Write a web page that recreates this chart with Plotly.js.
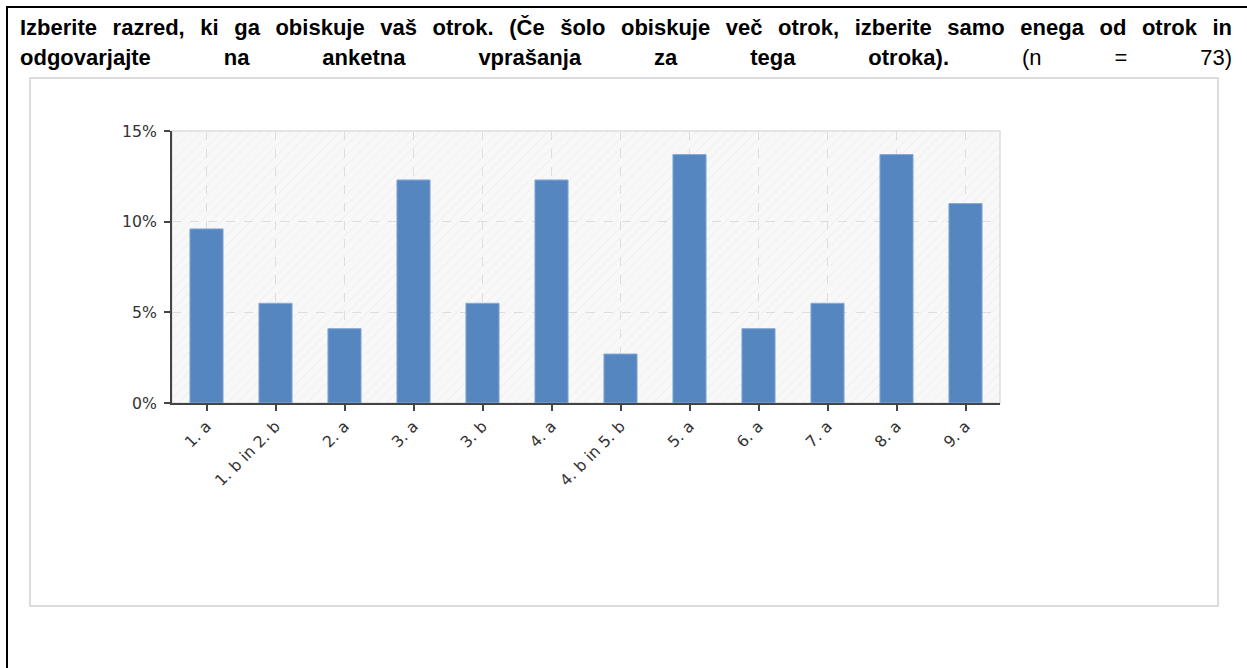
<!DOCTYPE html>
<html>
<head>
<meta charset="utf-8">
<script src="https://cdn.plot.ly/plotly-3.0.1.min.js"></script>
<style>
  html, body { margin: 0; padding: 0; background: #fff; width: 1247px; height: 668px; overflow: hidden; }
  #frameTop { position: absolute; left: 6px; top: 6px; width: 1241px; height: 2px; background: #000; }
  #frameLeft { position: absolute; left: 6px; top: 6px; width: 2px; height: 662px; background: #000; }
  #title { position: absolute; left: 20px; top: 13px; width: 1212px;
           font-family: "Liberation Sans", Arial, sans-serif; font-size: 22px; line-height: 30px; color: #000; }
  #title div { text-align: justify; text-align-last: justify; }
  #title b { font-weight: bold; }
  #title span { font-weight: normal; }
  #box { position: absolute; left: 29px; top: 77px; width: 1186px; height: 526px; border: 2px solid #dcdcdc; }
  #chart { position: absolute; left: 0; top: 0; width: 1247px; height: 668px; }
</style>
</head>
<body>
<div id="frameTop"></div>
<div id="frameLeft"></div>
<div id="box"></div>
<div id="title">
  <div><b>Izberite razred, ki ga obiskuje vaš otrok. (Če šolo obiskuje več otrok, izberite samo enega od otrok in</b></div>
  <div><b>odgovarjajte na anketna vprašanja za tega otroka).</b> <span>(n = 73)</span></div>
</div>
<div id="chart"></div>
<script>
const categories = ["1. a", "1. b in 2. b", "2. a", "3. a", "3. b", "4. a", "4. b in 5. b", "5. a", "6. a", "7. a", "8. a", "9. a"];
const percentValues = [9.6, 5.5, 4.1, 12.3, 5.5, 12.3, 2.7, 13.7, 4.1, 5.5, 13.7, 11.0];
const yTickValues = [0, 5, 10, 15];
const yTickLabels = ["0%", "5%", "10%", "15%"];

const hatchSvg = '<svg xmlns="http://www.w3.org/2000/svg" width="828" height="272">' +
  '<defs><pattern id="p" width="7" height="7" patternUnits="userSpaceOnUse" patternTransform="rotate(45)">' +
  '<line x1="0" y1="0" x2="0" y2="7" stroke="#ebebeb" stroke-width="1.2"/></pattern></defs>' +
  '<rect width="828" height="272" fill="#f8f8f8"/><rect width="828" height="272" fill="url(#p)"/></svg>';
const hatchUri = 'data:image/svg+xml;charset=utf-8,' + encodeURIComponent(hatchSvg);

const trace = {
  type: 'bar',
  x: categories,
  y: percentValues,
  marker: { color: '#5586bf', line: { color: '#86a9d6', width: 1 } },
  hoverinfo: 'x+y'
};

const axisCommon = {
  tickfont: { size: 15.7, color: '#333' },
  showgrid: true,
  gridcolor: '#dddddd',
  griddash: 'dash',
  gridwidth: 1,
  showline: true,
  linecolor: '#444',
  linewidth: 2,
  ticks: 'outside',
  ticklen: 6,
  tickwidth: 2,
  tickcolor: '#444',
  zeroline: false,
  fixedrange: true
};

const layout = {
  width: 1247,
  height: 668,
  margin: { l: 172, r: 247, t: 131, b: 265 },
  paper_bgcolor: 'rgba(0,0,0,0)',
  plot_bgcolor: '#f8f8f8',
  showlegend: false,
  bargap: 0.52,
  font: { family: '"DejaVu Sans", Verdana, sans-serif', size: 15.7, color: '#333' },
  xaxis: Object.assign({}, axisCommon, {
    type: 'category',
    tickangle: -45
  }),
  yaxis: Object.assign({}, axisCommon, {
    range: [0, 15],
    tickvals: yTickValues,
    ticktext: yTickLabels,
    ticklabelstandoff: 4
  }),
  images: [{
    source: hatchUri,
    xref: 'paper', yref: 'paper',
    x: 0, y: 1, sizex: 1, sizey: 1,
    xanchor: 'left', yanchor: 'top',
    sizing: 'stretch',
    layer: 'below'
  }],
  shapes: [{
    type: 'rect', xref: 'paper', yref: 'paper',
    x0: 0, x1: 1, y0: 0, y1: 1,
    line: { color: '#dddddd', width: 1.5 },
    layer: 'below'
  }]
};

Plotly.newPlot('chart', [trace], layout, { displayModeBar: false, staticPlot: true });
</script>
</body>
</html>
